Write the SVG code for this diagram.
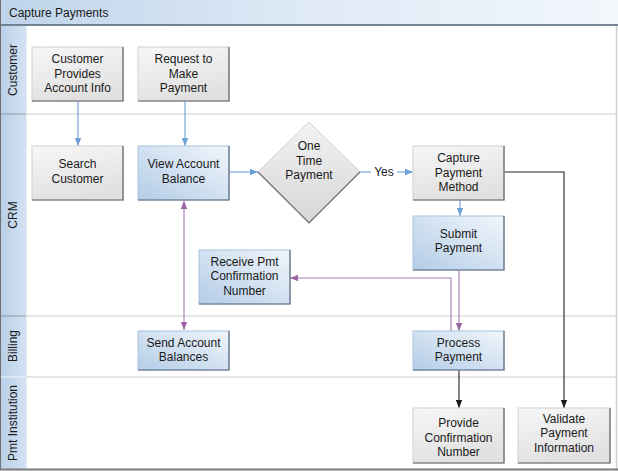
<svg xmlns="http://www.w3.org/2000/svg" width="618" height="471" viewBox="0 0 618 471">
<defs>
<linearGradient id="gTitle" x1="0" y1="0" x2="1" y2="0"><stop offset="0" stop-color="#bed4eb"/><stop offset="0.5" stop-color="#dfeaf6"/><stop offset="1" stop-color="#f2f7fc"/></linearGradient>
<linearGradient id="gLane" x1="0" y1="0" x2="1" y2="0"><stop offset="0" stop-color="#b8cfe8"/><stop offset="1" stop-color="#d3e2f2"/></linearGradient>
<linearGradient id="gGray" x1="0" y1="0" x2="0.3" y2="1"><stop offset="0" stop-color="#f7f7f7"/><stop offset="1" stop-color="#e1e1e1"/></linearGradient>
<linearGradient id="gBlue" x1="1" y1="0" x2="0" y2="1"><stop offset="0" stop-color="#f1f6fb"/><stop offset="1" stop-color="#b3cce7"/></linearGradient>
<linearGradient id="gDia" x1="0" y1="0" x2="0" y2="1"><stop offset="0" stop-color="#f3f3f3"/><stop offset="1" stop-color="#d6d6d6"/></linearGradient>
<marker id="aBlue" viewBox="0 0 8 8" refX="8" refY="4" markerWidth="8" markerHeight="8" markerUnits="userSpaceOnUse" orient="auto"><path d="M0,0.8 L8,4 L0,7.2 z" fill="#6c9fd6"/></marker>
<marker id="aPurp" viewBox="0 0 8 8" refX="8" refY="4" markerWidth="8" markerHeight="8" markerUnits="userSpaceOnUse" orient="auto"><path d="M0,0.8 L8,4 L0,7.2 z" fill="#9a68a6"/></marker>
<marker id="aPurpS" viewBox="0 0 8 8" refX="0" refY="4" markerWidth="8" markerHeight="8" markerUnits="userSpaceOnUse" orient="auto"><path d="M8,0.8 L0,4 L8,7.2 z" fill="#9a68a6"/></marker>
<marker id="aBlack" viewBox="0 0 8 8" refX="8" refY="4" markerWidth="8" markerHeight="8" markerUnits="userSpaceOnUse" orient="auto"><path d="M0,0.8 L8,4 L0,7.2 z" fill="#1a1a1a"/></marker>
</defs>
<style>
text{font-family:"Liberation Sans",Arial,sans-serif;font-size:12px;fill:#1a1a1a}
.c{text-anchor:middle}
.gray{fill:url(#gGray);stroke:#cfcfcf;stroke-width:1}
.blue{fill:url(#gBlue);stroke:#a8c3e0;stroke-width:1}
.sh{fill:none;stroke:#616161;stroke-width:1.2}
.shb{fill:none;stroke:#5d6b7a;stroke-width:1.2}
.sep{stroke:#dcdcdc;stroke-width:1.5}
.lsep{stroke:#8d9aa8;stroke-width:1}
.bl{fill:none;stroke:#6c9fd6;stroke-width:1.1}
.pu{fill:none;stroke:#a47cb0;stroke-width:1.1}
.bk{fill:none;stroke:#222;stroke-width:1.1}
</style>
<rect x="0" y="0" width="618" height="471" fill="#ffffff"/>
<g id="frame">
<rect x="0" y="0" width="618" height="25" fill="url(#gTitle)"/>
<line x1="0" y1="25" x2="618" y2="25" stroke="#4f6070" stroke-width="1.5"/>
<text x="9" y="17">Capture Payments</text>
<rect x="0" y="26" width="26" height="443" fill="url(#gLane)"/>
<line x1="26.5" y1="26" x2="26.5" y2="469" stroke="#e6eef7" stroke-width="1"/>
<line x1="26" y1="114" x2="617" y2="114" class="sep"/>
<line x1="26" y1="316" x2="617" y2="316" class="sep"/>
<line x1="26" y1="377" x2="617" y2="377" class="sep"/>
<line x1="0" y1="114" x2="26" y2="114" class="lsep"/>
<line x1="0" y1="316" x2="26" y2="316" class="lsep"/>
<line x1="0" y1="377" x2="26" y2="377" stroke="#f0f4fa" stroke-width="1"/>
<line x1="616.5" y1="26" x2="616.5" y2="469" stroke="#cfcfcf" stroke-width="1.5"/>
<line x1="0.5" y1="0" x2="0.5" y2="470" stroke="#6f6f6f" stroke-width="1"/>
<line x1="0" y1="469.5" x2="618" y2="469.5" stroke="#7a7a7a" stroke-width="2"/>
<text class="c" transform="translate(17,70) rotate(-90)">Customer</text>
<text class="c" transform="translate(17,215) rotate(-90)">CRM</text>
<text class="c" transform="translate(17,346) rotate(-90)">Billing</text>
<text class="c" transform="translate(17,423) rotate(-90)">Pmt Institution</text>
</g>
<g id="connectors">
<line x1="78" y1="101" x2="78" y2="146" class="bl" marker-end="url(#aBlue)"/>
<line x1="185" y1="101" x2="185" y2="146" class="bl" marker-end="url(#aBlue)"/>
<line x1="229" y1="172" x2="258" y2="172" class="bl" marker-end="url(#aBlue)"/>
<line x1="360" y1="172" x2="371" y2="172" class="bl"/>
<line x1="397" y1="172" x2="413" y2="172" class="bl" marker-end="url(#aBlue)"/>
<text x="384" y="176" class="c">Yes</text>
<line x1="460" y1="200" x2="460" y2="216" class="bl" marker-end="url(#aBlue)"/>
<line x1="184" y1="201" x2="184" y2="330" class="pu" marker-start="url(#aPurpS)" marker-end="url(#aPurp)"/>
<line x1="459" y1="270" x2="459" y2="331" class="pu" marker-end="url(#aPurp)"/>
<polyline points="451,331 451,278 290,278" class="pu" marker-end="url(#aPurp)"/>
<polyline points="504,172 564,172 564,408" class="bk" marker-end="url(#aBlack)"/>
<line x1="459" y1="370" x2="459" y2="408" class="bk" marker-end="url(#aBlack)"/>
</g>
<g id="n1"><rect x="32" y="47" width="91" height="54" class="gray"/><polyline points="123,47 123,101 32,101" class="sh"/><text class="c" x="77.5" y="63">Customer</text><text class="c" x="77.5" y="77.5">Provides</text><text class="c" x="77.5" y="92">Account Info</text></g>
<g id="n2"><rect x="138" y="47" width="91" height="54" class="gray"/><polyline points="229,47 229,101 138,101" class="sh"/><text class="c" x="183.5" y="63">Request to</text><text class="c" x="183.5" y="77.5">Make</text><text class="c" x="183.5" y="92">Payment</text></g>
<g id="n3"><rect x="32" y="146" width="91" height="54" class="gray"/><polyline points="123,146 123,200 32,200" class="sh"/><text class="c" x="77.5" y="168">Search</text><text class="c" x="77.5" y="182.5">Customer</text></g>
<g id="n4"><rect x="138" y="146" width="91" height="54" class="blue"/><polyline points="229,146 229,200 138,200" class="shb"/><text class="c" x="183.5" y="168">View Account</text><text class="c" x="183.5" y="182.5">Balance</text></g>
<g id="n5"><polygon points="309,122 360,172 309,223 258,172" fill="url(#gDia)" stroke="#cfcfcf" stroke-width="1"/><polyline points="258,172 309,223 360,172" fill="none" stroke="#6a6a6a" stroke-width="1.2"/><text class="c" x="309" y="150">One</text><text class="c" x="309" y="164.5">Time</text><text class="c" x="309" y="179">Payment</text></g>
<g id="n6"><rect x="413" y="146" width="91" height="54" class="gray"/><polyline points="504,146 504,200 413,200" class="sh"/><text class="c" x="458.5" y="162">Capture</text><text class="c" x="458.5" y="176.5">Payment</text><text class="c" x="458.5" y="191">Method</text></g>
<g id="n7"><rect x="413" y="216" width="91" height="54" class="blue"/><polyline points="504,216 504,270 413,270" class="shb"/><text class="c" x="458.5" y="237.5">Submit</text><text class="c" x="458.5" y="252">Payment</text></g>
<g id="n8"><rect x="199" y="250" width="91" height="54" class="blue"/><polyline points="290,250 290,304 199,304" class="shb"/><text class="c" x="244.5" y="265.5">Receive Pmt</text><text class="c" x="244.5" y="280">Confirmation</text><text class="c" x="244.5" y="294.5">Number</text></g>
<g id="n9"><rect x="138" y="331" width="91" height="39" class="blue"/><polyline points="229,331 229,370 138,370" class="shb"/><text class="c" x="183.5" y="346.5">Send Account</text><text class="c" x="183.5" y="361">Balances</text></g>
<g id="n10"><rect x="413" y="331" width="91" height="39" class="blue"/><polyline points="504,331 504,370 413,370" class="shb"/><text class="c" x="458.5" y="346.5">Process</text><text class="c" x="458.5" y="361">Payment</text></g>
<g id="n11"><rect x="413" y="408" width="91" height="55" class="gray"/><polyline points="504,408 504,463 413,463" class="sh"/><text class="c" x="458.5" y="427">Provide</text><text class="c" x="458.5" y="441.5">Confirmation</text><text class="c" x="458.5" y="456">Number</text></g>
<g id="n12"><rect x="518" y="408" width="92" height="55" class="gray"/><polyline points="610,408 610,463 518,463" class="sh"/><text class="c" x="564" y="422.5">Validate</text><text class="c" x="564" y="437">Payment</text><text class="c" x="564" y="451.5">Information</text></g>
</svg>
